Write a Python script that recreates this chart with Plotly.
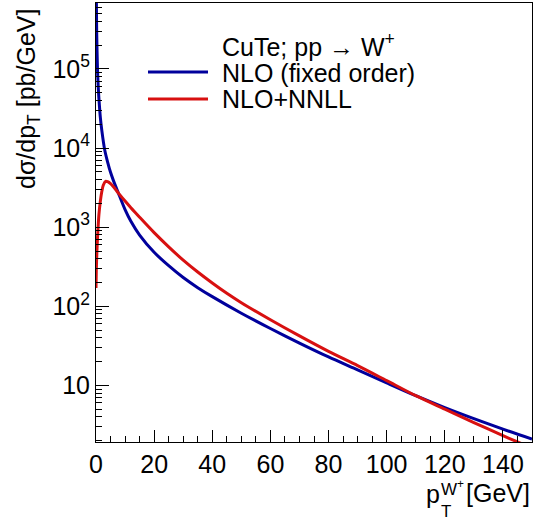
import plotly.graph_objects as go

# W+ transverse-momentum spectrum, CuTe: fixed-order NLO vs resummed NLO+NNLL
pt_nlo = [0.08, 0.15, 0.25, 0.5, 0.75, 1, 1.5, 2, 3, 4, 5, 6, 8, 10, 12, 15, 20,
          25, 30, 35, 40, 50, 60, 70, 80, 90, 100, 110, 120, 130, 140, 150]
xs_nlo = [1.36e6, 5.63e5, 2.73e5, 1.03e5, 6.10e4, 4.24e4, 2.42e4, 1.675e4, 9.47e3,
          6.66e3, 4.94e3, 3.88e3, 2.53e3, 1.668e3, 1.187e3, 795, 482, 326, 231,
          172, 132.4, 81.8, 52.4, 34.3, 22.9, 15.7, 10.74, 7.40, 5.24, 3.80, 2.80,
          2.10]

pt_nnll = [0.0, 0.1, 0.3, 0.5, 0.8, 1.0, 1.5, 2.0, 2.5, 3.3, 4, 5, 6, 7, 8, 10, 12,
           15, 20, 25, 30, 35, 40, 45, 50, 60, 70, 80, 90, 100, 110, 120, 130, 140,
           145, 150]
xs_nnll = [170, 282, 479, 708, 1122, 1445, 2138, 2818, 3388, 3802, 3758, 3548,
           3236, 2911, 2618, 2138, 1762, 1337, 853, 564, 383, 271, 197, 146, 111,
           67.6, 42.2, 26.9, 17.8, 11.5, 7.41, 5.01, 3.39, 2.32, 1.93, 1.62]

x_ticks = [0, 20, 40, 60, 80, 100, 120, 140]
y_ticks = [10, 1e2, 1e3, 1e4, 1e5]
y_ticktext = ["10", "10<sup>2</sup>", "10<sup>3</sup>", "10<sup>4</sup>", "10<sup>5</sup>"]

series_names = ["NLO (fixed order)", "NLO+NNLL"]
header = "CuTe; pp \u2192 W<sup>+</sup>"

BLUE = "#00009c"
RED = "#d81010"
FONT = "Liberation Sans, Arial, Helvetica, sans-serif"

W, H = 535, 520
ML, MR, MT, MB = 96, 3, 3, 78
PW, PH = W - ML - MR, H - MT - MB


def fx(px):
    return (px - ML) / PW


def fy(py):
    return (H - MB - py) / PH


fig = go.Figure()
fig.add_trace(go.Scatter(x=pt_nlo, y=xs_nlo, mode="lines", name=series_names[0],
                         line=dict(color=BLUE, width=3, shape="spline", smoothing=0.8),
                         showlegend=False))
fig.add_trace(go.Scatter(x=pt_nnll, y=xs_nnll, mode="lines", name=series_names[1],
                         line=dict(color=RED, width=3, shape="spline", smoothing=0.8),
                         showlegend=False))

minor_y = [k * 10 ** n for n in range(0, 6) for k in range(2, 10)]

fig.update_xaxes(range=[0, 150], tickmode="array", tickvals=x_ticks,
                 ticks="inside", ticklen=12, tickwidth=1, tickcolor="black",
                 minor=dict(ticks="inside", ticklen=6, dtick=5, tickcolor="black"),
                 showline=True, linecolor="black", linewidth=1, mirror=True,
                 showgrid=False, zeroline=False,
                 tickfont=dict(family=FONT, size=25, color="black"))
fig.update_yaxes(type="log", range=[0.2845, 5.834], tickmode="array",
                 tickvals=y_ticks, ticktext=y_ticktext,
                 ticks="inside", ticklen=13, tickwidth=1, tickcolor="black",
                 minor=dict(ticks="inside", ticklen=6, tickmode="array",
                            tickvals=minor_y, tickcolor="black"),
                 showline=True, linecolor="black", linewidth=1, mirror=True,
                 showgrid=False, zeroline=False,
                 tickfont=dict(family=FONT, size=25, color="black"))

ann = []
# y-axis title, aligned to the top of the axis
ann.append(dict(text="d\u03c3/dp<sub>T</sub> [pb/GeV]", textangle=-90,
                x=fx(28), y=fy(8), xanchor="center", yanchor="top",
                font=dict(family=FONT, size=25, color="black")))
# x-axis title, p_T with stacked W+ / T indices, aligned to the right end
ann.append(dict(text="p", x=fx(425), y=fy(494), xanchor="left", yanchor="middle",
                font=dict(family=FONT, size=25, color="black")))
ann.append(dict(text="T", x=fx(440), y=fy(511), xanchor="left", yanchor="middle",
                font=dict(family=FONT, size=17, color="black")))
ann.append(dict(text="W<sup>+</sup>", x=fx(440), y=fy(488), xanchor="left",
                yanchor="middle", font=dict(family=FONT, size=17, color="black")))
ann.append(dict(text="[GeV]", x=fx(465), y=fy(493), xanchor="left", yanchor="middle",
                font=dict(family=FONT, size=25, color="black")))

# legend: header plus two line samples
ann.append(dict(text=header, x=fx(221), y=fy(45), xanchor="left", yanchor="middle",
                font=dict(family=FONT, size=25, color="black")))
ann.append(dict(text=series_names[0], x=fx(221), y=fy(72.5), xanchor="left",
                yanchor="middle", font=dict(family=FONT, size=25, color="black")))
ann.append(dict(text=series_names[1], x=fx(221), y=fy(99.5), xanchor="left",
                yanchor="middle", font=dict(family=FONT, size=25, color="black")))
for a in ann:
    a.update(xref="paper", yref="paper", showarrow=False, borderpad=0)

shapes = [
    dict(type="line", xref="paper", yref="paper", x0=fx(148), x1=fx(208),
         y0=fy(72), y1=fy(72), line=dict(color=BLUE, width=3)),
    dict(type="line", xref="paper", yref="paper", x0=fx(148), x1=fx(208),
         y0=fy(99), y1=fy(99), line=dict(color=RED, width=3)),
]

fig.update_layout(width=W, height=H, margin=dict(l=ML, r=MR, t=MT, b=MB),
                  paper_bgcolor="white", plot_bgcolor="white",
                  annotations=ann, shapes=shapes, showlegend=False)

fig.write_html("out.html")
